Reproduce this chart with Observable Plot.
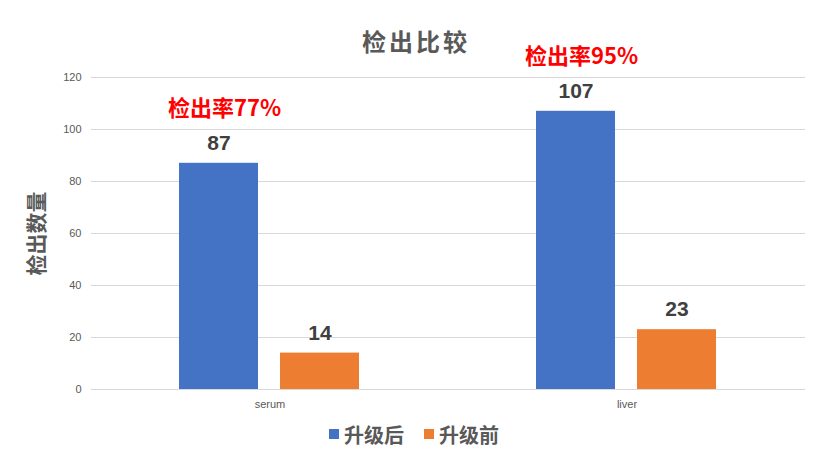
<!DOCTYPE html>
<html>
<head>
<meta charset="utf-8">
<script src="https://cdn.jsdelivr.net/npm/d3@7"></script>
<script src="https://cdn.jsdelivr.net/npm/@observablehq/plot@0.6"></script>
<style>
  html, body { margin: 0; padding: 0; background: #fff; }
  #wrap { position: relative; width: 832px; height: 472px; background: #fff;
          font-family: "Liberation Sans", "Noto Sans CJK SC", sans-serif; }
  #title { position: absolute; left: 0; top: 27px; width: 832px; text-align: center;
           font-family: "Noto Sans CJK SC", sans-serif; font-size: 24px; line-height: 28px;
           letter-spacing: 3px; color: #595959; font-weight: bold; }
  #legend { display: flex; justify-content: center; align-items: center; gap: 20px;
            height: 28px; font-family: "Noto Sans CJK SC", sans-serif; font-size: 20px;
            color: #595959; font-weight: bold; margin-left: -4px; }
  .item { display: flex; align-items: center; gap: 5px; }
  .sw { width: 10px; height: 10px; display: inline-block; }
</style>
</head>
<body>
<div id="wrap">
  <div id="chart"></div>
  <div id="legend"></div>
  <div id="title"></div>
</div>
<script>
const titleText = "检出比较";
const yLabel = "检出数量";
const categories = ["serum", "liver"];
const seriesNames = ["升级后", "升级前"];
const afterValues = [87, 107];
const beforeValues = [14, 23];
const rateLabels = ["检出率77%", "检出率95%"];
const yTicks = [0, 20, 40, 60, 80, 100, 120];
const seriesColors = ["#4472C4", "#ED7D31"];

const data = categories.flatMap((c, i) => [
  {cat: c, series: seriesNames[0], value: afterValues[i]},
  {cat: c, series: seriesNames[1], value: beforeValues[i]}
]);
const notes = categories.map((c, i) => ({cat: c, series: seriesNames[0], value: afterValues[i], text: rateLabels[i]}));

document.getElementById("title").textContent = titleText;

const chart = Plot.plot({
  width: 832,
  height: 420,
  marginLeft: 90,
  marginRight: 27,
  marginTop: 77,
  marginBottom: 31,
  style: {
    fontFamily: "'Liberation Sans', 'Noto Sans CJK SC', sans-serif",
    fontSize: "11px",
    color: "#595959",
    background: "white",
    overflow: "visible"
  },
  fx: {domain: categories, padding: 0, axis: "bottom", label: null, tickSize: 0, tickPadding: 11},
  x: {domain: seriesNames, axis: null, paddingInner: 0.216, paddingOuter: 0.86},
  y: {domain: [0, 120], ticks: yTicks, tickSize: 0, tickPadding: 10,
      label: yLabel, labelArrow: "none", labelAnchor: "center", labelOffset: 62},
  color: {domain: seriesNames, range: seriesColors},
  marks: [
    Plot.ruleY(yTicks, {stroke: "#d9d9d9", strokeWidth: 1}),
    Plot.barY(data, {fx: "cat", x: "series", y: "value", fill: "series"}),
    Plot.text(data, {fx: "cat", x: "series", y: "value", text: d => String(d.value),
      dy: -20, fill: "#404040", fontSize: 21, fontWeight: "bold", lineAnchor: "middle"}),
    Plot.text(notes, {fx: "cat", x: "series", y: "value", text: "text",
      dy: -54, dx: -51, textAnchor: "start", fill: "#FF0000", fontSize: 22, fontWeight: "bold",
      fontFamily: "'Noto Sans CJK SC', 'Liberation Sans', sans-serif", lineAnchor: "middle"})
  ]
});
document.getElementById("chart").appendChild(chart);

// style the y-axis label (and strip any arrow)
d3.select(chart).selectAll("text")
  .filter(function() { return this.textContent.includes(yLabel); })
  .each(function() {
    const t = d3.select(this);
    const tsp = t.selectAll("tspan");
    if (tsp.size()) tsp.each(function() { this.textContent = this.textContent.replace(/[↑→←↓]/g, "").trim(); });
    else t.text(yLabel);
  })
  .attr("font-size", 21)
  .attr("font-weight", "bold")
  .attr("fill", "#595959")
  .attr("font-family", "'Noto Sans CJK SC', sans-serif");

// legend
const legend = d3.select("#legend");
seriesNames.forEach((s, i) => {
  const item = legend.append("div").attr("class", "item");
  item.append("span").attr("class", "sw").style("background", seriesColors[i]);
  item.append("span").text(s);
});
</script>
</body>
</html>
